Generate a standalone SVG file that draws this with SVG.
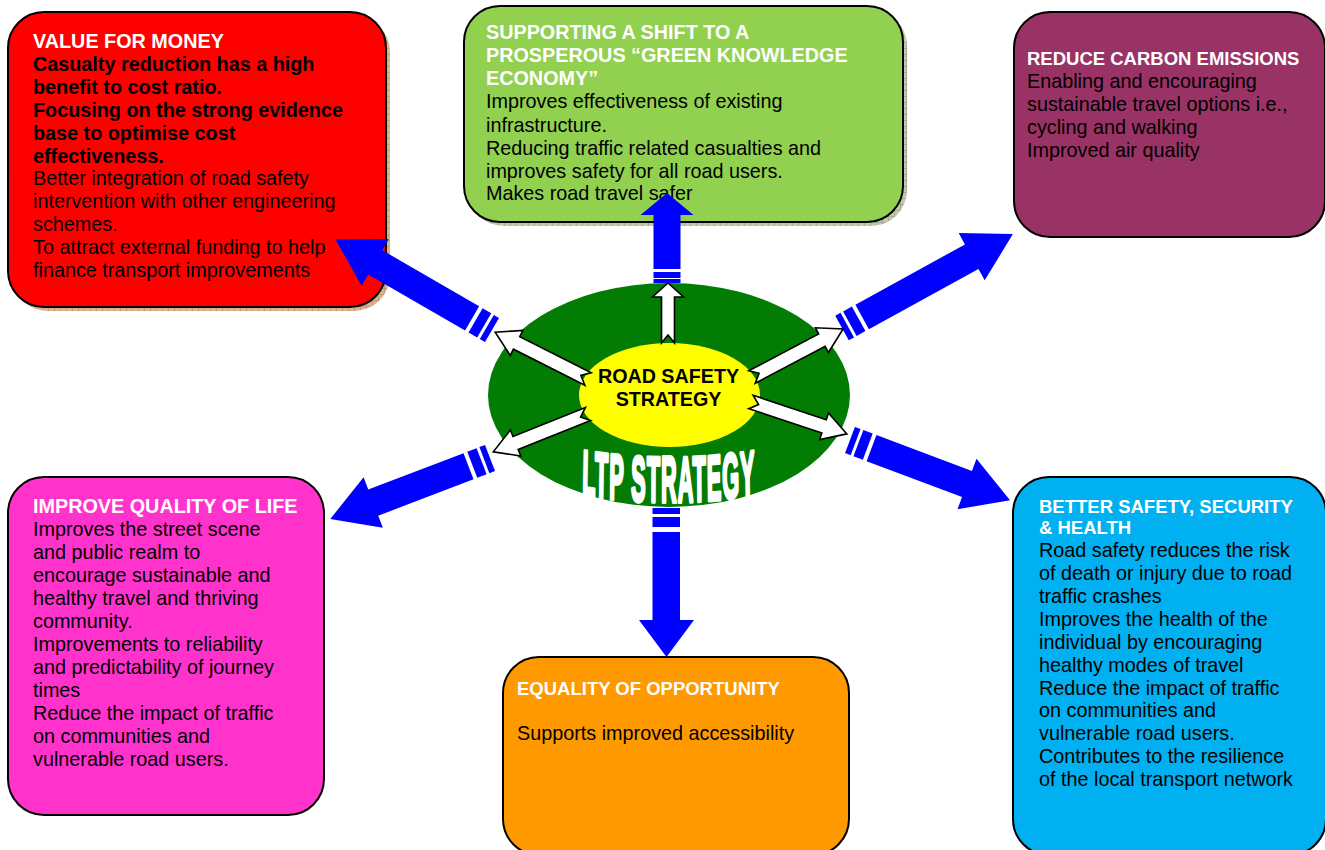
<svg xmlns="http://www.w3.org/2000/svg" width="1325" height="850" viewBox="0 0 1325 850">
<defs>
<style>
.box{stroke:#000;stroke-width:2}
.h{font-family:"Liberation Sans",Arial,sans-serif;font-weight:bold;font-size:19.8px;fill:#fff}
.hs{font-family:"Liberation Sans",Arial,sans-serif;font-weight:bold;font-size:18.5px;fill:#fff}
.b{font-family:"Liberation Sans",Arial,sans-serif;font-size:19.8px;fill:#000}
.bb{font-family:"Liberation Sans",Arial,sans-serif;font-weight:bold;font-size:19.8px;fill:#000}
.ct{font-family:"Liberation Sans",Arial,sans-serif;font-weight:bold;font-size:19.7px;fill:#000;text-anchor:middle}
.blue{fill:#0000ff}
.white{fill:#fff;stroke:#000;stroke-width:1.6;stroke-linejoin:miter}
</style>
<pattern id="shBrown" width="6" height="6" patternUnits="userSpaceOnUse">
<rect width="6" height="6" fill="#d9b48e"/>
<path d="M0 0H6M0 0V6" stroke="#9a7048" stroke-width="0.7"/>
</pattern>
<pattern id="shGreen" width="6" height="6" patternUnits="userSpaceOnUse">
<rect width="6" height="6" fill="#c2c9b0"/>
<path d="M0 0H6M0 0V6" stroke="#6d7560" stroke-width="0.7"/>
</pattern>
</defs>
<rect width="1325" height="850" fill="#fff"/>

<g id="value-for-money">
<rect x="12" y="16" width="378" height="295" rx="36" fill="url(#shBrown)"/>
<rect class="box" x="8" y="12" width="378" height="295" rx="36" fill="#ff0000"/>
<text class="h" x="33" y="48">VALUE FOR MONEY</text>
<text class="bb" x="33" y="71">Casualty reduction has a high</text>
<text class="bb" x="33" y="94">benefit to cost ratio.</text>
<text class="bb" x="33" y="117">Focusing on the strong evidence</text>
<text class="bb" x="33" y="140">base to optimise cost</text>
<text class="bb" x="33" y="162.5">effectiveness.</text>
<text class="b" x="33" y="185">Better integration of road safety</text>
<text class="b" x="33" y="208">intervention with other engineering</text>
<text class="b" x="33" y="231">schemes.</text>
<text class="b" x="33" y="254">To attract external funding to help</text>
<text class="b" x="33" y="277">finance transport improvements</text>
</g>

<g id="green-knowledge-economy">
<rect x="468" y="10" width="439" height="216" rx="36" fill="url(#shGreen)"/>
<rect class="box" x="464" y="6" width="439" height="216" rx="36" fill="#92d050"/>
<text class="h" x="486" y="39">SUPPORTING A SHIFT TO A</text>
<text class="h" x="486" y="62">PROSPEROUS “GREEN KNOWLEDGE</text>
<text class="h" x="486" y="85">ECONOMY”</text>
<text class="b" x="486" y="108">Improves effectiveness of existing</text>
<text class="b" x="486" y="131.5">infrastructure.</text>
<text class="b" x="486" y="155">Reducing traffic related casualties and</text>
<text class="b" x="486" y="177.5">improves safety for all road users.</text>
<text class="b" x="486" y="200">Makes road travel safer</text>
</g>

<g id="reduce-carbon">
<rect class="box" x="1014" y="12" width="311" height="225" rx="36" fill="#993366"/>
<text class="hs" x="1027" y="65">REDUCE CARBON EMISSIONS</text>
<text class="b" x="1027" y="88">Enabling and encouraging</text>
<text class="b" x="1027" y="111">sustainable travel options i.e.,</text>
<text class="b" x="1027" y="134">cycling and walking</text>
<text class="b" x="1027" y="157">Improved air quality</text>
</g>

<g id="quality-of-life">
<rect class="box" x="8" y="477" width="316" height="338" rx="36" fill="#ff33cc"/>
<text class="h" x="33" y="513">IMPROVE QUALITY OF LIFE</text>
<text class="b" x="33" y="536">Improves the street scene</text>
<text class="b" x="33" y="559">and public realm to</text>
<text class="b" x="33" y="582">encourage sustainable and</text>
<text class="b" x="33" y="605">healthy travel and thriving</text>
<text class="b" x="33" y="628">community.</text>
<text class="b" x="33" y="651">Improvements to reliability</text>
<text class="b" x="33" y="674">and predictability of journey</text>
<text class="b" x="33" y="697">times</text>
<text class="b" x="33" y="720">Reduce the impact of traffic</text>
<text class="b" x="33" y="743">on communities and</text>
<text class="b" x="33" y="766">vulnerable road users.</text>
</g>

<g id="safety-security-health">
<rect class="box" x="1013" y="477" width="313" height="378" rx="36" fill="#00b0f0"/>
<text class="hs" x="1039" y="513">BETTER SAFETY, SECURITY</text>
<text class="hs" x="1039" y="534">&amp; HEALTH</text>
<text class="b" x="1039" y="557">Road safety reduces the risk</text>
<text class="b" x="1039" y="580">of death or injury due to road</text>
<text class="b" x="1039" y="603">traffic crashes</text>
<text class="b" x="1039" y="626">Improves the health of the</text>
<text class="b" x="1039" y="649">individual by encouraging</text>
<text class="b" x="1039" y="672">healthy modes of travel</text>
<text class="b" x="1039" y="694.5">Reduce the impact of traffic</text>
<text class="b" x="1039" y="717">on communities and</text>
<text class="b" x="1039" y="740">vulnerable road users.</text>
<text class="b" x="1039" y="763">Contributes to the resilience</text>
<text class="b" x="1039" y="786">of the local transport network</text>
</g>

<g id="equality-of-opportunity">
<rect class="box" x="503" y="657" width="346" height="198" rx="36" fill="#ff9900"/>
<text class="hs" x="517" y="695">EQUALITY OF OPPORTUNITY</text>
<text class="b" x="517" y="740">Supports improved accessibility</text>
</g>

<g id="ltp-strategy">
<ellipse cx="669" cy="395" rx="181" ry="112" fill="#037c03"/>
<ellipse cx="669.5" cy="395" rx="90.5" ry="52" fill="#ffff00"/>
<text class="ct" x="668.5" y="383">ROAD SAFETY</text>
<text class="ct" x="668.5" y="406">STRATEGY</text>
<g transform="translate(669,0) scale(0.34,1)">
<path id="ltpArc" d="M -270 494 Q 0 510 270 494" fill="none"/>
<text font-family="'Liberation Sans',Arial,sans-serif" font-weight="bold" font-size="64" fill="#fff" stroke="#fff" stroke-width="4" stroke-linejoin="round" letter-spacing="3" text-anchor="middle"><textPath href="#ltpArc" startOffset="50%">LTP STRATEGY</textPath></text>
</g>
</g>

<g id="connectors">
<g class="blue" transform="translate(492,330) rotate(-149.9)">
<rect x="0" y="-14" width="6" height="28"/><rect x="9" y="-14" width="10" height="28"/>
<polygon points="23,-14 135,-14 135,-27 181,0 135,27 135,14 23,14"/>
</g>
<g class="blue" transform="translate(842,328) rotate(-28.8)">
<rect x="0" y="-14" width="6" height="28"/><rect x="9" y="-14" width="10" height="28"/>
<polygon points="23,-14 148,-14 148,-27 195,0 148,27 148,14 23,14"/>
</g>
<g class="blue" transform="translate(490,458) rotate(159.1)">
<rect x="0" y="-14" width="6" height="28"/><rect x="9" y="-14" width="10" height="28"/>
<polygon points="23,-14 125,-14 125,-27 171,0 125,27 125,14 23,14"/>
</g>
<g class="blue" transform="translate(850,440) rotate(20.6)">
<rect x="0" y="-14" width="6" height="28"/><rect x="9" y="-14" width="10" height="28"/>
<polygon points="23,-14 125,-14 125,-27 171,0 125,27 125,14 23,14"/>
</g>
<g class="blue">
<rect x="653.5" y="279" width="27" height="4"/><rect x="653.5" y="272" width="27" height="6"/>
<polygon points="653.5,269 653.5,215 640.5,215 667,193 693.5,215 680.5,215 680.5,269"/>
<rect x="652.5" y="508" width="27.5" height="6"/><rect x="652.5" y="517" width="27.5" height="10"/>
<polygon points="652.5,532 652.5,620 639,620 666.5,657 694,620 680,620 680,532"/>
</g>
<polygon class="white" transform="translate(668,343) rotate(-90)" points="0,-6.5 46,-6.5 46,-15.5 60,0 46,15.5 46,6.5 0,6.5 8,0"/>
<polygon class="white" transform="translate(588,379) rotate(-153.2)" points="0,-7 80,-7 80,-14 104,0 80,14 80,7 0,7 8,0"/>
<polygon class="white" transform="translate(752,377) rotate(-27.8)" points="0,-7 79,-7 79,-14 103,0 79,14 79,7 0,7 8,0"/>
<polygon class="white" transform="translate(588,414) rotate(158.2)" points="0,-7 78,-7 78,-14 102,0 78,14 78,7 0,7 8,0"/>
<polygon class="white" transform="translate(751,402) rotate(18.4)" points="0,-7 77,-7 77,-14 101,0 77,14 77,7 0,7 8,0"/>
</g>
</svg>
